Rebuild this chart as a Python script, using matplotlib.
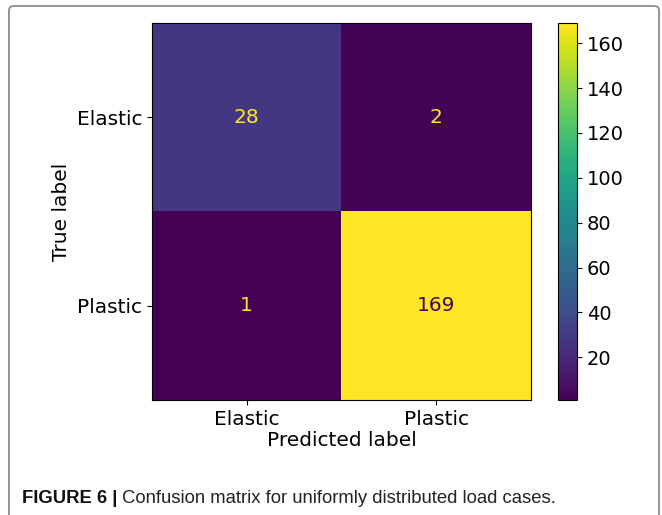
import matplotlib
matplotlib.use("Agg")
from matplotlib import pyplot as plt
from matplotlib.patches import FancyBboxPatch
import numpy as np

classes = ["Elastic", "Plastic"]
cm = np.array([[28, 2],
               [1, 169]])
cbar_ticks = [20, 40, 60, 80, 100, 120, 140, 160]

fig = plt.figure(figsize=(6.62, 5.15), dpi=100)

# frame round the whole figure (page box)
box = FancyBboxPatch((9/662, -0.1), (659-9)/662, (515-6)/515 + 0.1,
                     boxstyle="round,pad=0,rounding_size=0.008",
                     transform=fig.transFigure, fill=False,
                     edgecolor="#8c8c8c", linewidth=1.3)
fig.patches.append(box)

ax = fig.add_axes([152/662, 1-400/515, (531-152)/662, (400-23)/515])
cax = fig.add_axes([558/662, 1-400/515, (577-558)/662, (400-23)/515])

cmap = plt.get_cmap("viridis")
im = ax.imshow(cm, cmap=cmap, interpolation="nearest", aspect="auto")
thresh = (cm.max() + cm.min()) / 2
for i in range(cm.shape[0]):
    for j in range(cm.shape[1]):
        col = cmap(0.0) if cm[i, j] > thresh else cmap(1.0)
        ax.text(j, i, str(cm[i, j]), ha="center", va="center",
                color=col, fontsize=14.5)

ax.set_xticks(range(len(classes)))
ax.set_xticklabels(classes, fontsize=14.5)
ax.set_yticks(range(len(classes)))
ax.set_yticklabels(classes, fontsize=14.5)
ax.set_xlabel("Predicted label", fontsize=14.5, labelpad=2)
ax.set_ylabel("True label", fontsize=14.5, labelpad=4)

cb = fig.colorbar(im, cax=cax)
cb.set_ticks(cbar_ticks)
cb.ax.tick_params(labelsize=14)

cap_font = ["Liberation Sans", "DejaVu Sans"]
t1 = fig.text(22/662, 1-503/515, "FIGURE 6 |", fontsize=13.3, fontweight="bold",
              family=cap_font, va="baseline", color="#111111")
fig.canvas.draw()
bb = t1.get_window_extent()
fig.text((bb.x1 + 5)/662, 1-503/515,
         "Confusion matrix for uniformly distributed load cases.",
         fontsize=13.3, family=cap_font, va="baseline", color="#222222")

fig.savefig("out.png", dpi=100)
